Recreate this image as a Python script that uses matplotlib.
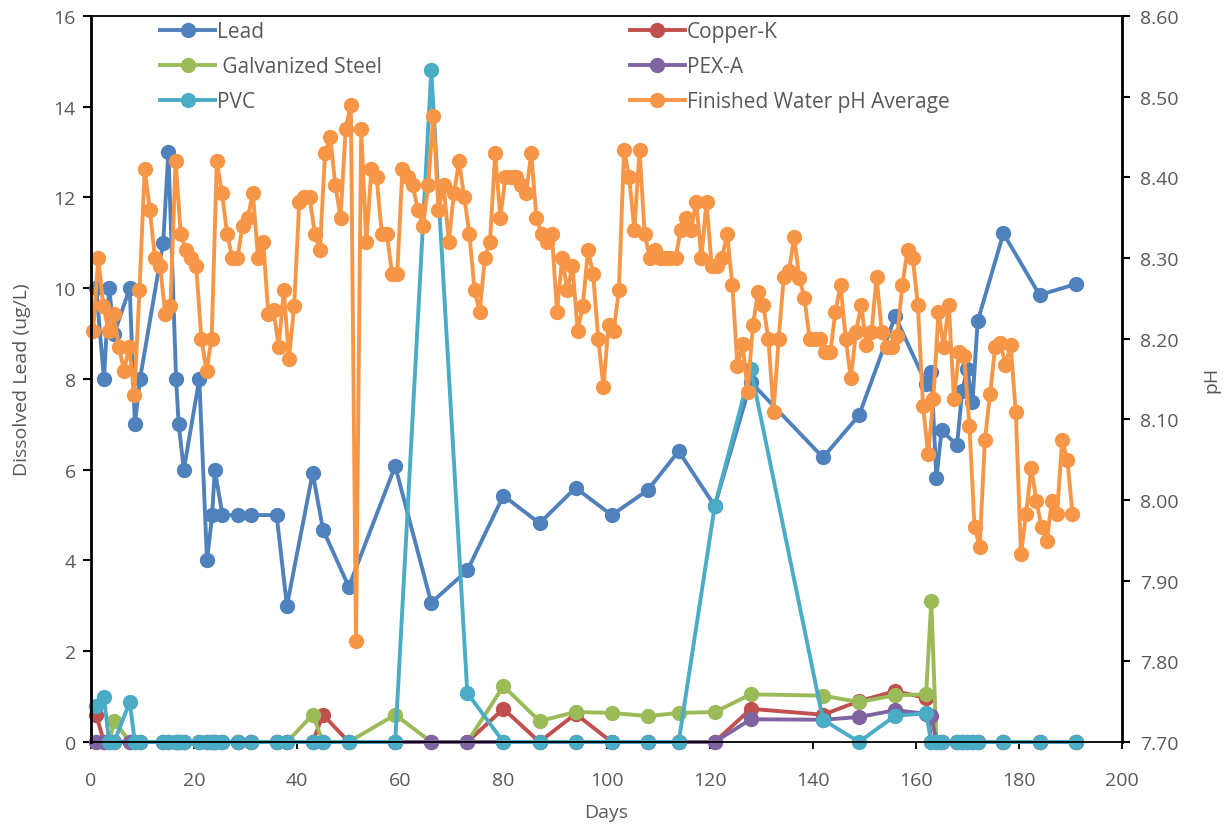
import matplotlib
matplotlib.use("Agg")
import matplotlib.pyplot as plt
import numpy as np

plt.rcParams['font.family'] = ['Open Sans', 'DejaVu Sans']
grey = '#595959'

# sample days for the pipe loops
days = [1, 2.5, 3.5, 4.5, 7.5, 8.5, 9.5, 14, 15, 16.5,
        17, 18, 21, 22.5, 23.5, 24, 25.5, 28.5, 31, 36,
        38, 43, 45, 50, 59, 66, 73, 80, 87, 94,
        101, 108, 114, 121, 128, 142, 149, 156, 162, 163,
        164, 165, 168, 169, 170, 171, 172, 177, 184, 191]

lead = [10, 8, 10, 9, 10, 7, 8, 11, 13, 8,
        7, 6, 8, 4, 5, 6, 5, 5, 5, 5,
        3, 5.93, 4.68, 3.42, 6.08, 3.07, 3.78, 5.43, 4.82, 5.6,
        5.0, 5.55, 6.41, 5.2, 7.93, 6.27, 7.2, 9.38, 7.9, 8.15,
        5.81, 6.87, 6.54, 7.73, 8.22, 7.49, 9.27, 11.21, 9.85, 10.09]

copper = [0.6, 0, 0, 0, 0, 0, 0, 0, 0, 0,
          0, 0, 0, 0, 0, 0, 0, 0, 0, 0,
          0, 0, 0.6, 0, 0, 0, 0, 0.73, 0, 0.62,
          0, 0, 0, 0, 0.73, 0.6, 0.9, 1.12, 0.97, 0,
          0, 0, 0, 0, 0, 0, 0, 0, 0, 0]

galv = [0, 0, 0, 0.47, 0, 0, 0, 0, 0, 0,
        0, 0, 0, 0, 0, 0, 0, 0, 0, 0,
        0, 0.6, 0, 0, 0.6, 0, 0, 1.23, 0.46, 0.66,
        0.64, 0.57, 0.64, 0.66, 1.05, 1.02, 0.88, 1.03, 1.05, 3.1,
        0, 0, 0, 0, 0, 0, 0, 0, 0, 0]

pex = [0, 0, 0, 0, 0, 0, 0, 0, 0, 0,
       0, 0, 0, 0, 0, 0, 0, 0, 0, 0,
       0, 0, 0, 0, 0, 0, 0, 0, 0, 0,
       0, 0, 0, 0, 0.5, 0.49, 0.55, 0.7, 0.62, 0.58,
       0, 0, 0, 0, 0, 0, 0, 0, 0, 0]

pvc = [0.8, 1.0, 0, 0, 0.88, 0, 0, 0, 0, 0,
       0, 0, 0, 0, 0, 0, 0, 0, 0, 0,
       0, 0, 0, 0, 0, 14.8, 1.08, 0, 0, 0,
       0, 0, 0, 5.2, 8.22, 0.49, 0, 0.58, 0.63, 0,
       0, 0, 0, 0, 0, 0, 0, 0, 0, 0]

# daily finished water pH
ph = [8.21, 8.30, 8.24, 8.21, 8.23, 8.19, 8.16, 8.19, 8.13, 8.26,
      8.41, 8.36, 8.30, 8.29, 8.23, 8.24, 8.42, 8.33, 8.31, 8.30,
      8.29, 8.20, 8.16, 8.20, 8.42, 8.38, 8.33, 8.30, 8.30, 8.34,
      8.35, 8.38, 8.30, 8.32, 8.23, 8.235, 8.19, 8.26, 8.175, 8.24,
      8.37, 8.375, 8.375, 8.33, 8.31, 8.43, 8.45, 8.39, 8.35, 8.46,
      8.49, 7.825, 8.46, 8.32, 8.41, 8.40, 8.33, 8.33, 8.28, 8.28,
      8.41, 8.40, 8.39, 8.36, 8.34, 8.39, 8.476, 8.36, 8.39, 8.32,
      8.38, 8.42, 8.375, 8.33, 8.26, 8.233, 8.30, 8.32, 8.43, 8.35,
      8.40, 8.40, 8.40, 8.39, 8.38, 8.43, 8.35, 8.33, 8.32, 8.33,
      8.233, 8.30, 8.26, 8.29, 8.21, 8.24, 8.31, 8.28, 8.20, 8.14,
      8.217, 8.21, 8.26, 8.434, 8.40, 8.335, 8.434, 8.33, 8.30, 8.31,
      8.30, 8.30, 8.30, 8.30, 8.335, 8.35, 8.335, 8.37, 8.30, 8.37,
      8.29, 8.29, 8.30, 8.33, 8.267, 8.166, 8.193, 8.134, 8.217, 8.258,
      8.242, 8.20, 8.109, 8.20, 8.277, 8.284, 8.326, 8.275, 8.25, 8.20,
      8.20, 8.20, 8.183, 8.183, 8.233, 8.267, 8.20, 8.151, 8.208, 8.242,
      8.192, 8.208, 8.277, 8.208, 8.19, 8.19, 8.203, 8.267, 8.31, 8.30,
      8.242, 8.117, 8.057, 8.125, 8.233, 8.19, 8.242, 8.125, 8.183, 8.178,
      8.092, 7.966, 7.942, 8.074, 8.131, 8.19, 8.195, 8.167, 8.192, 8.109,
      7.933, 7.983, 8.04, 7.999, 7.966, 7.949, 7.999, 7.983, 8.074, 8.05,
      7.983]
ph_days = np.arange(len(ph)) + 0.4

fig = plt.figure(figsize=(12.32, 8.28), dpi=100)
ax = fig.add_axes([0.0739, 0.1027, 0.8368, 0.8768])
ax2 = ax.twinx()

style = dict(lw=2.8, marker='o', markersize=10, clip_on=False)
h_lead, = ax.plot(days, lead, color='#4F81BD', label='Lead', **style)
h_cu, = ax.plot(days, copper, color='#C0504D', label='Copper-K', **style)
h_gs, = ax.plot(days, galv, color='#9BBB59', label=' Galvanized Steel', **style)
h_pex, = ax.plot(days, pex, color='#8064A2', label='PEX-A', **style)
h_pvc, = ax.plot(days, pvc, color='#4BACC6', label='PVC', **style)
h_ph, = ax2.plot(ph_days, ph, color='#F79646', label='Finished Water pH Average', **style)

ax.set_xlim(0, 200)
ax.set_ylim(0, 16)
ax2.set_ylim(7.7, 8.6)
ax.set_xticks(np.arange(0, 201, 20))
ax.set_yticks(np.arange(0, 17, 2))
ax2.set_yticks(np.arange(7.7, 8.61, 0.1))
ax2.set_yticklabels(['%.2f' % v for v in np.arange(7.7, 8.61, 0.1)])

for s in ax.spines.values():
    s.set_visible(False)
for name, s in ax2.spines.items():
    s.set_color('black')
    s.set_linewidth(2.0 if name in ('left', 'right') else 1.3)

ax.tick_params(axis='y', direction='out', length=6, width=1.5, labelsize=14, labelcolor=grey, pad=5)
ax.tick_params(axis='x', direction='out', length=5, width=1.3, labelsize=14, labelcolor=grey, pad=16)
ax2.tick_params(axis='y', direction='out', length=6, width=1.5, labelsize=14, labelcolor=grey, pad=7)

ax.set_xlabel('Days', fontsize=14, color=grey, labelpad=10)
ax.set_ylabel('Dissolved Lead (ug/L)', fontsize=14, color=grey, labelpad=16)
ax2.set_ylabel('pH', fontsize=14, color=grey, labelpad=17)

leg_kw = dict(loc='upper left', frameon=False, fontsize=15, handlelength=2.64,
              handletextpad=0.1, labelspacing=0.67, borderpad=0, borderaxespad=0,
              labelcolor=grey)
leg1 = fig.legend(handles=[h_lead, h_gs, h_pvc], bbox_to_anchor=(0.130, 0.973), **leg_kw)
leg2 = fig.legend(handles=[h_cu, h_pex, h_ph], bbox_to_anchor=(0.511, 0.973), **leg_kw)

fig.savefig('out.png', dpi=100)
